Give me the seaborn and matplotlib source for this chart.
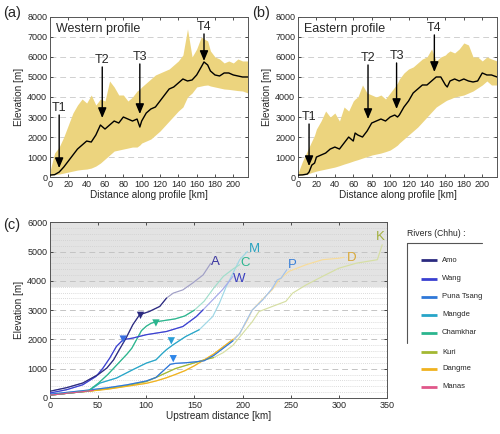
import numpy as np
import pandas as pd
import matplotlib
matplotlib.use("Agg")
import matplotlib.pyplot as plt
import seaborn as sns
from matplotlib.colors import to_rgb

sns.set_style("ticks")
plt.rcParams['font.family'] = ['Liberation Sans', 'DejaVu Sans']

# ---------------- data: panel (a) Western profile ----------------
w_x = [0, 5, 10, 15, 20, 25, 30, 35, 40, 45, 50, 55, 60, 65, 70, 75, 80, 85, 90, 95, 98, 100,
       105, 110, 115, 120, 125, 130, 135, 140, 145, 150, 155, 160, 165, 168, 172, 175, 180, 185,
       190, 195, 200, 205, 210, 216]
w_mean = [100, 120, 250, 500, 800, 1100, 1400, 1600, 1800, 1750, 2100, 2600, 2400, 2600, 2800, 2700,
          3000, 2900, 2800, 2900, 2500, 2800, 3200, 3400, 3500, 3800, 4100, 4400, 4500, 4700, 4900,
          4800, 4850, 5100, 5500, 5750, 5600, 5300, 5100, 5050, 5200, 5200, 5100, 5050, 5000, 5000]
w_max = [300, 1200, 1500, 2000, 2600, 3200, 3600, 3900, 3700, 4100, 3600, 3900, 3800, 4800, 4500, 4100,
         4100, 3800, 4000, 4300, 4400, 4500, 4700, 4900, 5100, 5200, 5300, 5400, 5600, 5800, 6100,
         7400, 6000, 6400, 7000, 6900, 6800, 6300, 6000, 5900, 5700, 5800, 5700, 5900, 5800, 5800]
w_min = [100, 120, 150, 200, 250, 300, 350, 380, 400, 450, 550, 700, 900, 1100, 1300, 1350, 1400, 1450,
         1500, 1500, 1600, 1700, 1800, 1900, 2100, 2300, 2550, 2800, 3050, 3300, 3500, 4000, 4200,
         4500, 4550, 4580, 4600, 4550, 4500, 4450, 4400, 4380, 4350, 4320, 4300, 4200]

# ---------------- data: panel (b) Eastern profile ----------------
e_x = [0, 5, 10, 12, 15, 18, 20, 25, 30, 35, 40, 45, 50, 55, 60, 62, 65, 70, 75, 80, 85, 90, 95,
       100, 105, 108, 110, 115, 120, 125, 130, 135, 140, 145, 150, 155, 160, 162, 165, 170, 175,
       180, 185, 190, 195, 200, 205, 210, 216]
e_mean = [100, 110, 150, 250, 600, 700, 1000, 1100, 1200, 1400, 1500, 1400, 1700, 2000, 1800, 2200,
          2100, 2000, 2300, 2700, 2800, 2900, 2800, 3000, 3100, 3000, 3100, 3500, 3800, 4200, 4400,
          4600, 4600, 4800, 5000, 5000, 4600, 4500, 4800, 4900, 4800, 4900, 4800, 4750, 4800, 5200,
          5100, 5100, 5000]
e_max = [200, 800, 1300, 1500, 1800, 2100, 2400, 2800, 3300, 3000, 3200, 2800, 3500, 3300, 3800, 3900,
         4000, 4600, 4200, 4100, 4000, 4100, 3900, 4200, 4500, 4700, 4900, 5200, 5400, 5500, 5700,
         5900, 6000, 6400, 5800, 6000, 6100, 6200, 6300, 6200, 6400, 6700, 6600, 6000, 6000, 5800,
         6000, 5900, 5800]
e_min = [100, 110, 130, 180, 230, 270, 300, 350, 400, 450, 500, 570, 650, 720, 800, 830, 870, 950,
         1020, 1100, 1150, 1200, 1270, 1350, 1500, 1600, 1700, 1900, 2100, 2300, 2500, 2750, 3000,
         3250, 3500, 3650, 3800, 3850, 3900, 4000, 4050, 4100, 4200, 4300, 4450, 4600, 4800, 4600, 4600]

# annotations: label, x, text elevation, arrow tip elevation
west_ann = [("T1", 10, 3450, 450), ("T2", 57, 5850, 2950), ("T3", 98, 6000, 3150), ("T4", 168, 7500, 5800)]
east_ann = [("T1", 12, 3000, 550), ("T2", 76, 5950, 2900), ("T3", 107, 6050, 3400), ("T4", 148, 7450, 5250)]

# ---------------- data: panel (c) river profiles ----------------
rivers = ["Amo", "Wang", "Puna Tsang", "Mangde", "Chamkhar", "Kuri", "Dangme", "Manas"]
river_colors = ["#2b2a80", "#3a40d0", "#2f78d8", "#27a5c8", "#2bb58e", "#a3b832", "#f0b21f", "#e0578a"]

amo_x = [0, 17, 34, 50, 59, 66, 72, 79, 86, 93, 103, 114, 121, 128, 138, 148, 159, 167]
amo_y = [230, 350, 510, 800, 1020, 1300, 1650, 2045, 2500, 2840, 2950, 3125, 3410, 3580, 3690, 3920, 4200, 4600]
wang_x = [0, 17, 34, 48, 55, 62, 69, 76, 86, 100, 121, 138, 152, 159, 169, 179, 186, 190]
wang_y = [170, 280, 450, 740, 1020, 1360, 1760, 1990, 2045, 2160, 2270, 2440, 2780, 3010, 3350, 3690, 3980, 4150]
puna_x = [0, 20, 40, 60, 80, 100, 110, 115, 120, 125, 130, 140, 150, 160, 170, 180, 190, 197, 205,
          210, 221, 231, 236, 240, 246]
puna_y = [130, 200, 270, 350, 450, 580, 700, 850, 1000, 1150, 1180, 1200, 1230, 1270, 1450, 1700, 1950,
          2200, 2700, 3000, 3350, 3750, 4030, 4090, 4380]
mangde_x = [0, 10, 20, 30, 40, 52, 69, 86, 100, 110, 117, 121, 128, 141, 155, 169, 176, 183, 190, 197, 205]
mangde_y = [100, 130, 170, 200, 240, 510, 680, 965, 1190, 1300, 1530, 1650, 1820, 2100, 2330, 2780, 3240,
            3800, 4260, 4720, 5000]
chamkhar_x = [0, 10, 20, 30, 40, 50, 60, 70, 80, 85, 90, 95, 100, 105, 110, 120, 130, 140, 150, 160,
              170, 180, 190, 197]
chamkhar_y = [100, 130, 170, 200, 250, 500, 800, 1150, 1500, 1700, 2000, 2300, 2450, 2550, 2600, 2650,
              2700, 2800, 3000, 3300, 3750, 4150, 4400, 4550]
kuri_x = [0, 10, 20, 30, 40, 60, 80, 100, 110, 120, 130, 140, 150, 160, 170, 180, 190, 200, 210, 217,
          231, 245, 252, 266, 283, 300, 318, 340, 345]
kuri_y = [100, 130, 170, 200, 230, 320, 420, 560, 700, 850, 1000, 1100, 1200, 1300, 1380, 1550, 1800,
          2200, 2600, 2950, 3125, 3300, 3580, 3860, 4150, 4430, 4600, 4720, 5230]
dangme_x = [0, 10, 20, 30, 40, 60, 80, 100, 110, 120, 130, 140, 150, 160, 170, 180, 190, 197, 205, 210,
            220, 231, 238, 248, 266, 283, 300, 305]
dangme_y = [100, 130, 170, 200, 230, 300, 400, 500, 580, 680, 800, 930, 1100, 1300, 1500, 1750, 2000,
            2200, 2650, 3000, 3350, 3700, 4030, 4320, 4550, 4720, 4770, 4800]
manas_x = [0, 10, 20, 30, 40, 45]
manas_y = [100, 130, 170, 200, 240, 260]

# distance beyond which each river is drawn in a paler tone
pale_from = {"Amo": 125, "Wang": 160, "Puna Tsang": 195, "Mangde": 160, "Chamkhar": 150,
             "Kuri": 170, "Dangme": 195, "Manas": 999}

river_data = {"Amo": (amo_x, amo_y), "Wang": (wang_x, wang_y), "Puna Tsang": (puna_x, puna_y),
              "Mangde": (mangde_x, mangde_y), "Chamkhar": (chamkhar_x, chamkhar_y),
              "Kuri": (kuri_x, kuri_y), "Dangme": (dangme_x, dangme_y), "Manas": (manas_x, manas_y)}

# knickpoint markers
knick_rivers = ["Amo", "Wang", "Chamkhar", "Mangde", "Puna Tsang"]
knick_x = [94, 76, 110, 126, 128]
knick_y = [2820, 2010, 2560, 1950, 1340]
knick_colors = ["#2b2a80", "#3a6ee0", "#2bb58e", "#2a9fd6", "#2f86e8"]

# end labels
end_labels = ["A", "M", "C", "W", "P", "D", "K"]
end_x = [172, 212, 203, 197, 252, 313, 343]
end_y = [4650, 5100, 4600, 4050, 4550, 4780, 5500]
end_colors = ["#3a35a0", "#2aa3c0", "#2bb58e", "#3a3fc0", "#3a80d8", "#d9a838", "#a3b040"]

# ---------------- figure ----------------
fig = plt.figure(figsize=(5.0, 4.34), dpi=100)
ax_a = fig.add_axes([0.100, 0.592, 0.396, 0.369])
ax_b = fig.add_axes([0.596, 0.592, 0.398, 0.369])
ax_c = fig.add_axes([0.100, 0.083, 0.674, 0.405])

fill_col = "#ecd47e"
TICK = 6.5
LAB = 7.2


def profile(ax, xs, mean, lo, hi, title, ann):
    for yv in range(1000, 8000, 1000):
        ax.axhline(yv, color="#d0d0d0", lw=0.7, ls=(0, (6, 4)), zorder=0)
    ax.fill_between(xs, lo, hi, color=fill_col, lw=0, zorder=1)
    df = pd.DataFrame({"x": xs, "y": mean})
    sns.lineplot(data=df, x="x", y="y", ax=ax, color="black", lw=1.0, zorder=3,
                 estimator=None, sort=False)
    for lab, x, ty, tip in ann:
        ax.annotate("", xy=(x, tip), xytext=(x, ty - 350),
                    arrowprops=dict(arrowstyle="-|>,head_length=0.6,head_width=0.25", color="black",
                                    lw=1.0, shrinkA=0, shrinkB=0), zorder=4)
        ax.text(x, ty, lab, ha="center", va="center", fontsize=9, zorder=5)
    ax.set_xlim(0, 216)
    ax.set_ylim(0, 8000)
    ax.set_xticks(range(0, 201, 20))
    ax.set_yticks(range(0, 8001, 1000))
    ax.tick_params(labelsize=TICK, direction="in", length=2.5, top=True, right=True,
                   width=0.6, color="#333333", pad=2)
    ax.set_xlabel("Distance along profile [km]", fontsize=LAB, labelpad=1)
    ax.set_ylabel("Elevation [m]", fontsize=LAB, labelpad=2)
    ax.text(0.03, 0.965, title, transform=ax.transAxes, ha="left", va="top", fontsize=9)
    for s in ax.spines.values():
        s.set_linewidth(0.7)
        s.set_color("#555555")


profile(ax_a, w_x, w_mean, w_min, w_max, "Western profile", west_ann)
profile(ax_b, e_x, e_mean, e_min, e_max, "Eastern profile", east_ann)

# ---- panel (c)
ax = ax_c
ax.axhspan(3800, 6000, color="#e3e3e3", lw=0, zorder=0)
for yv in range(200, 6000, 200):
    if yv % 1000 == 0:
        ax.axhline(yv, color="#c4c4c4", lw=0.7, ls=(0, (6, 4)), zorder=0.5)
    else:
        ax.axhline(yv, color="#cfcfcf", lw=0.6, ls=(0, (1, 1.5)), zorder=0.5)


def pale(c, f=0.55):
    r, g, b = to_rgb(c)
    return (r + (1 - r) * f, g + (1 - g) * f, b + (1 - b) * f)


draw_order = ["Kuri", "Dangme", "Puna Tsang", "Mangde", "Chamkhar", "Wang", "Amo", "Manas"]
for name in draw_order:
    col = river_colors[rivers.index(name)]
    xs, ys = river_data[name]
    df = pd.DataFrame({"x": xs, "y": ys})
    sns.lineplot(data=df, x="x", y="y", ax=ax, color=pale(col), lw=0.85, estimator=None,
                 sort=False, zorder=2)
    dfl = df[df["x"] <= pale_from[name]]
    sns.lineplot(data=dfl, x="x", y="y", ax=ax, color=col, lw=0.85, estimator=None,
                 sort=False, zorder=3)

kdf = pd.DataFrame({"x": knick_x, "y": knick_y, "river": knick_rivers})
sns.scatterplot(data=kdf, x="x", y="y", hue="river", palette=dict(zip(knick_rivers, knick_colors)),
                marker="v", s=28, ax=ax, legend=False, zorder=5, edgecolor="none")

for t, x, y, c in zip(end_labels, end_x, end_y, end_colors):
    ax.text(x, y, t, color=c, fontsize=9.5, ha="center", va="center", zorder=6)

ax.set_xlim(0, 350)
ax.set_ylim(0, 6000)
ax.set_xticks(range(0, 351, 50))
ax.set_yticks(range(0, 6001, 1000))
ax.tick_params(labelsize=TICK, direction="in", length=2.5, top=True, right=True,
               width=0.6, color="#333333", pad=2)
ax.set_xlabel("Upstream distance [km]", fontsize=LAB, labelpad=1)
ax.set_ylabel("Elevation [m]", fontsize=LAB, labelpad=2)
for s in ax.spines.values():
    s.set_linewidth(0.7)
    s.set_color("#555555")

# ---- panel labels
fig.text(3 / 500, 1 - 13 / 434, "(a)", fontsize=10.5, va="center", ha="left")
fig.text(252 / 500, 1 - 13 / 434, "(b)", fontsize=10.5, va="center", ha="left")
fig.text(3 / 500, 1 - 225 / 434, "(c)", fontsize=10.5, va="center", ha="left")

# ---- legend (manual, in figure pixel coordinates)
lg = fig.add_axes([0, 0, 1, 1], zorder=-1)
lg.set_xlim(0, 500)
lg.set_ylim(434, 0)
lg.axis("off")
lg.text(407, 233, "Rivers (Chhu) :", fontsize=6.2, va="center", ha="left")
lg.plot([407, 482], [243, 243], color="#555555", lw=0.8)
lg.plot([407, 407], [243, 343], color="#555555", lw=0.8)
leg_y = [260, 279, 297, 315, 333, 352, 369, 387]
for name, c, yy in zip(rivers, river_colors, leg_y):
    lg.plot([421, 437], [yy, yy], color=c, lw=2.0, solid_capstyle="butt")
    lg.text(442, yy, name, fontsize=5.5, va="center", ha="left")

fig.savefig("out.png", dpi=100)
